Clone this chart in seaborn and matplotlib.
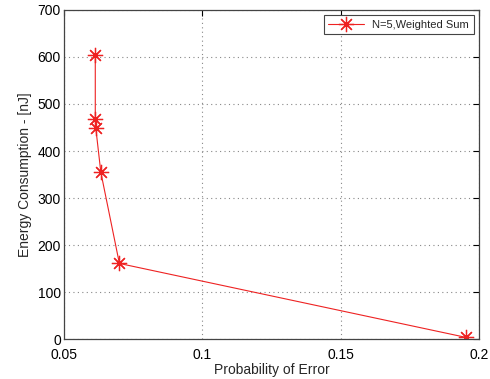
import pandas as pd
import seaborn as sns
import matplotlib.pyplot as plt

# values
prob_error = [0.0614, 0.0614, 0.0616, 0.0634, 0.0701, 0.1951]
energy_nj = [604, 468, 448, 355, 161, 4]
series_name = "N=5,Weighted Sum"

df = pd.DataFrame({"Probability of Error": prob_error,
                   "Energy": energy_nj,
                   "series": series_name})

sns.set_style("white")
plt.rcParams["font.family"] = ["Liberation Sans", "DejaVu Sans"]

red = "#ee2222"
fig, ax = plt.subplots(figsize=(4.9, 3.79), dpi=100)

sns.lineplot(data=df, x="Probability of Error", y="Energy", hue="series",
             palette=[red], sort=False, estimator=None,
             marker=(8, 2, 0), markersize=11, markeredgewidth=0.9,
             markeredgecolor=red, linewidth=0.8, ax=ax)

ax.set_xlim(0.05, 0.2)
ax.set_ylim(0, 700)
ax.set_xticks([0.05, 0.1, 0.15, 0.2])
ax.set_xticklabels(["0.05", "0.1", "0.15", "0.2"])
ax.set_yticks(range(0, 701, 100))
ax.tick_params(direction="in", length=4, labelsize=10, colors="black",
               top=True, right=True)
ax.tick_params(axis="y", pad=2)
ax.tick_params(axis="x", pad=6)
for t in ax.get_yticklabels():
    t.set_verticalalignment("center_baseline")
ax.grid(True, linestyle=(0, (1, 3)), color="#888888", linewidth=0.8)
for s in ax.spines.values():
    s.set_color("#444444")
    s.set_linewidth(0.9)

ax.set_xlabel("Probability of Error", fontsize=10, labelpad=1)
ax.set_ylabel("Energy Consumption - [nJ]", fontsize=10, labelpad=4)

leg = ax.legend(loc="upper right", fontsize=8, fancybox=False,
                edgecolor="#444444", framealpha=1, borderaxespad=0.5,
                handlelength=3.2)
leg.get_frame().set_linewidth(0.8)
for h in leg.legend_handles:
    h.set_markeredgecolor(red)

plt.subplots_adjust(left=0.13, right=0.978, top=0.974, bottom=0.105)
plt.savefig("out.png", dpi=100)
